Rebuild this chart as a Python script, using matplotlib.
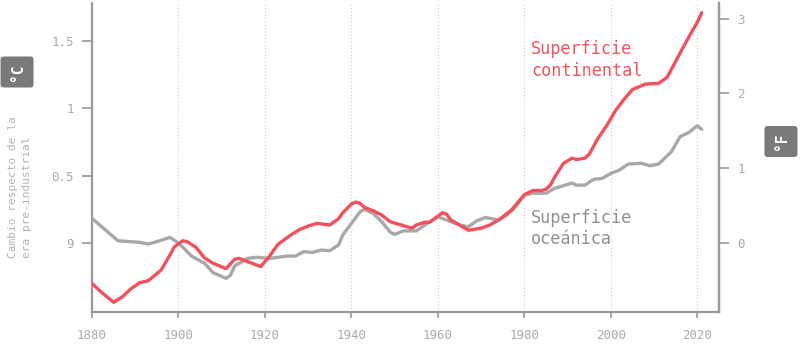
import matplotlib
matplotlib.use("Agg")
import matplotlib.pyplot as plt
from matplotlib.patches import FancyBboxPatch

# Temperature change relative to the pre-industrial era (°C), smoothed series
land_years = [1880, 1882, 1885, 1887, 1889, 1891, 1893, 1896, 1898, 1899, 1901,
              1902, 1904, 1906, 1908, 1911, 1913, 1914, 1917, 1919, 1921, 1923,
              1926, 1928, 1930, 1932, 1935, 1937, 1938, 1940, 1941, 1942, 1943,
              1945, 1947, 1949, 1951, 1954, 1955, 1957, 1958, 1960, 1961, 1962,
              1963, 1965, 1967, 1970, 1972, 1974, 1977, 1980, 1982, 1984, 1985,
              1986, 1987, 1989, 1991, 1992, 1994, 1995, 1997, 1999, 2001, 2003,
              2005, 2008, 2011, 2013, 2015, 2017, 2019, 2020, 2021]
land_values = [-0.30, -0.36, -0.44, -0.40, -0.34, -0.295, -0.28, -0.20, -0.09, -0.03, 0.017,
               0.01, -0.03, -0.11, -0.15, -0.19, -0.12, -0.114, -0.15, -0.175, -0.10, -0.01,
               0.06, 0.10, 0.126, 0.146, 0.134, 0.18, 0.225, 0.29, 0.304, 0.295, 0.265,
               0.24, 0.208, 0.158, 0.139, 0.11, 0.134, 0.155, 0.153, 0.20, 0.225, 0.215,
               0.17, 0.134, 0.095, 0.11, 0.134, 0.17, 0.245, 0.36, 0.39, 0.39, 0.40,
               0.43, 0.49, 0.59, 0.63, 0.62, 0.63, 0.66, 0.777, 0.87, 0.98, 1.065,
               1.14, 1.18, 1.185, 1.23, 1.35, 1.47, 1.585, 1.64, 1.71]

ocean_years = [1880, 1886, 1891, 1893, 1895, 1898, 1899, 1901, 1903, 1906, 1908,
               1911, 1912, 1913, 1916, 1918, 1921, 1923, 1925, 1927, 1929, 1931,
               1933, 1935, 1937, 1938, 1940, 1942, 1943, 1945, 1947, 1949, 1950,
               1952, 1955, 1957, 1960, 1963, 1965, 1967, 1969, 1971, 1974, 1976,
               1978, 1980, 1982, 1985, 1987, 1991, 1992, 1994, 1996, 1998, 2000,
               2002, 2004, 2007, 2009, 2011, 2014, 2016, 2018, 2020, 2021]
ocean_values = [0.183, 0.017, 0.005, -0.007, 0.01, 0.042, 0.022, -0.03, -0.097, -0.15, -0.22,
                -0.262, -0.24, -0.17, -0.114, -0.106, -0.114, -0.106, -0.097, -0.097, -0.064, -0.07,
                -0.052, -0.057, -0.015, 0.06, 0.146, 0.232, 0.25, 0.22, 0.158, 0.08, 0.064,
                0.09, 0.09, 0.134, 0.195, 0.158, 0.134, 0.12, 0.165, 0.19, 0.17, 0.208,
                0.27, 0.356, 0.37, 0.37, 0.406, 0.445, 0.43, 0.43, 0.473, 0.48, 0.517,
                0.542, 0.586, 0.592, 0.574, 0.586, 0.678, 0.79, 0.82, 0.871, 0.844]

x_ticks = [1880, 1900, 1920, 1940, 1960, 1980, 2000, 2020]
c_ticks = [0, 0.5, 1, 1.5]
c_tick_labels = ["9", "0.5", "1", "1.5"]
f_ticks = [0, 1, 2, 3]

RED = "#f2505c"
GREY_LINE = "#a8a8a8"
AXIS = "#9a9a9a"
TEXT = "#ababab"
BOX = "#7a7a7a"

plt.rcParams["font.family"] = ["DejaVu Sans Mono"]

W, H = 800, 347
fig = plt.figure(figsize=(W / 100, H / 100), dpi=100)
ax = fig.add_axes([92 / W, 35 / H, (719 - 92) / W, (312 - 3) / H])

ax.plot(ocean_years, ocean_values, color=GREY_LINE, lw=2.4, solid_capstyle="round",
        solid_joinstyle="round", zorder=3)
ax.plot(land_years, land_values, color=RED, lw=2.4, solid_capstyle="round",
        solid_joinstyle="round", zorder=4)

ax.set_xlim(1880, 2025)
ax.set_ylim(-0.512, 1.782)

ax.set_xticks(x_ticks)
ax.set_yticks(c_ticks)
ax.set_yticklabels(c_tick_labels)

ax.spines["top"].set_visible(False)
for side in ("left", "bottom", "right"):
    ax.spines[side].set_color(AXIS)
    ax.spines[side].set_linewidth(1.6)

ax.tick_params(axis="y", length=7, width=1.2, color=AXIS, labelcolor=TEXT,
               labelsize=9, pad=6)
ax.tick_params(axis="x", length=4.5, width=1.2, color=AXIS, labelcolor=TEXT,
               labelsize=9, pad=8)

# dotted vertical guides at each labelled year
for yr in x_ticks[1:]:
    ax.axvline(yr, color="#cfcfcf", lw=0.8, ls=(0, (1, 2)), zorder=1)

# Fahrenheit scale on the right
sec = ax.secondary_yaxis("right", functions=(lambda c: c * 1.8, lambda f: f / 1.8))
sec.set_yticks(f_ticks)
sec.spines["right"].set_color(AXIS)
sec.spines["right"].set_linewidth(1.6)
sec.tick_params(axis="y", length=7, width=1.2, color=AXIS, labelcolor=TEXT,
                labelsize=9, pad=6)

# Series labels
ax.text(1981.6, 1.505, "Superficie\ncontinental", color="#f4535e", fontsize=12.2,
        ha="left", va="top", linespacing=1.25)
ax.text(1981.6, 0.255, "Superficie\noceánica", color="#909090", fontsize=12.2,
        ha="left", va="top", linespacing=1.25)


def unit_badge(cx, cy, label, w=33, h=31):
    """Rounded grey badge with a rotated unit label, centred at pixel (cx, cy)."""
    patch = FancyBboxPatch(((cx - w / 2) / W, 1 - (cy + h / 2) / H), w / W, h / H,
                           boxstyle="round,pad=0,rounding_size=0.004",
                           transform=fig.transFigure, fc=BOX, ec="none",
                           mutation_aspect=W / H)
    fig.add_artist(patch)
    fig.text(cx / W, 1 - cy / H, label, rotation=90, ha="center", va="center",
             color="white", fontsize=10.5, fontweight="bold")


unit_badge(17, 72, "°C")
unit_badge(781, 141.5, "°F")

fig.text(20 / W, 1 - 187 / H, "Cambio respecto de la\nera pre-industrial",
         rotation=90, ha="center", va="center", color="#b3b3b3", fontsize=8,
         linespacing=1.6, multialignment="left")

fig.savefig("out.png", dpi=100)
